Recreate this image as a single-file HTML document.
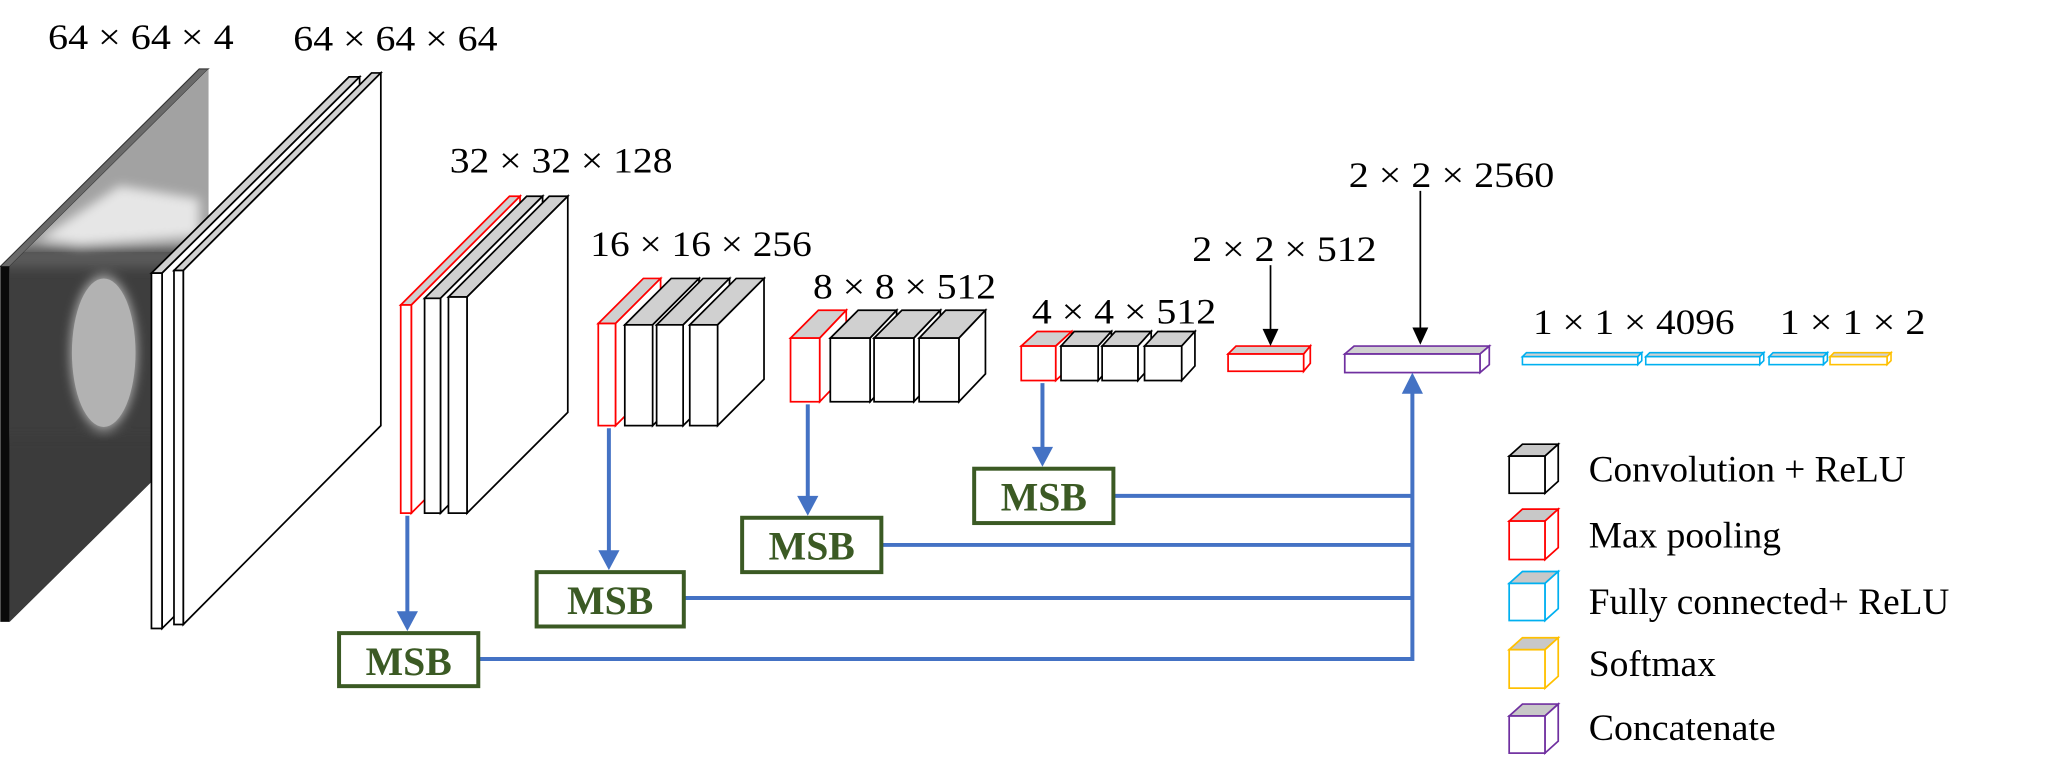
<!DOCTYPE html>
<html><head><meta charset="utf-8"><style>
html,body{margin:0;padding:0;background:#fff;}
svg{display:block;}
text{font-family:"Liberation Serif","Times New Roman",serif;fill:#000;}
</style></head><body>
<svg width="2069" height="773" viewBox="0 0 1560 583" xmlns="http://www.w3.org/2000/svg">
<defs>
<clipPath id="face"><polygon points="7,201 157,52 157,321 7,469"/></clipPath>
<filter id="bl"><feGaussianBlur stdDeviation="4"/></filter>
</defs>
<polygon points="0,201 150,52 157,52 7,201" fill="#6a6a6a" stroke="#333" stroke-width="0.8"/>
<rect x="0" y="201" width="7" height="268" fill="#0a0a0a"/>
<g clip-path="url(#face)">
<rect x="0" y="40" width="170" height="440" fill="#3e3e3e"/>
<rect x="0" y="40" width="170" height="150" fill="#a2a2a2"/>
<g filter="url(#bl)">
<polygon points="30,180 90,140 150,150 150,178 60,185" fill="#e6e6e6"/>
<rect x="0" y="186" width="170" height="16" fill="#5a5a5a"/>
<ellipse cx="78" cy="266" rx="25" ry="58" fill="#b0b0b0"/>
<rect x="0" y="330" width="170" height="140" fill="#3a3a3a"/>
</g>
<ellipse cx="78" cy="266" rx="24" ry="56" fill="#b2b2b2"/>
</g>
<g stroke="#000" stroke-width="1.3">
<polygon points="114,206 263,58 271,58 122,206" fill="#d0d0d0"/>
<polygon points="122,206 271,58 271,326 122,474" fill="#fff"/>
<rect x="114" y="206" width="8" height="268" fill="#fff"/>
<polygon points="131,204 280,55 287,55 138,204" fill="#d0d0d0"/>
<polygon points="138,204 287,55 287,321 138,471" fill="#fff"/>
<rect x="131" y="204" width="7" height="267" fill="#fff"/>
</g>
<g stroke-width="1.3">
<g stroke="#f00"><polygon points="302,230 384,148 392,148 310,230" fill="#d0d0d0"/><polygon points="310,230 392,148 392,305 310,387" fill="#fff"/><rect x="302" y="230" width="8" height="157" fill="#fff"/></g>
<g stroke="#000"><polygon points="320,225 397,148 409,148 332,225" fill="#d0d0d0"/><polygon points="332,225 409,148 409,310 332,387" fill="#fff"/><rect x="320" y="225" width="12" height="162" fill="#fff"/></g>
<g stroke="#000"><polygon points="338,224 414,148 428,148 352,224" fill="#d0d0d0"/><polygon points="352,224 428,148 428,311 352,387" fill="#fff"/><rect x="338" y="224" width="14" height="163" fill="#fff"/></g>
</g>
<g stroke-width="1.3">
<g stroke="#f00"><polygon points="451,244 485,210 498,210 464,244" fill="#d0d0d0"/><polygon points="464,244 498,210 498,287 464,321" fill="#fff"/><rect x="451" y="244" width="13" height="77" fill="#fff"/></g>
<g stroke="#000"><polygon points="471,245 506,210 527,210 492,245" fill="#d0d0d0"/><polygon points="492,245 527,210 527,286 492,321" fill="#fff"/><rect x="471" y="245" width="21" height="76" fill="#fff"/></g>
<g stroke="#000"><polygon points="495,245 530,210 550,210 515,245" fill="#d0d0d0"/><polygon points="515,245 550,210 550,286 515,321" fill="#fff"/><rect x="495" y="245" width="20" height="76" fill="#fff"/></g>
<g stroke="#000"><polygon points="520,245 555,210 576,210 541,245" fill="#d0d0d0"/><polygon points="541,245 576,210 576,286 541,321" fill="#fff"/><rect x="520" y="245" width="21" height="76" fill="#fff"/></g>
</g>
<g stroke-width="1.3">
<g stroke="#f00"><polygon points="596,255 617,234 638,234 618,255" fill="#d0d0d0"/><polygon points="618,255 638,234 638,282 618,303" fill="#fff"/><rect x="596" y="255" width="22" height="48" fill="#fff"/></g>
<g stroke="#000"><polygon points="626,255 647,234 676,234 656,255" fill="#d0d0d0"/><polygon points="656,255 676,234 676,282 656,303" fill="#fff"/><rect x="626" y="255" width="30" height="48" fill="#fff"/></g>
<g stroke="#000"><polygon points="659,255 680,234 709,234 689,255" fill="#d0d0d0"/><polygon points="689,255 709,234 709,282 689,303" fill="#fff"/><rect x="659" y="255" width="30" height="48" fill="#fff"/></g>
<g stroke="#000"><polygon points="693,255 713,234 743,234 723,255" fill="#d0d0d0"/><polygon points="723,255 743,234 743,282 723,303" fill="#fff"/><rect x="693" y="255" width="30" height="48" fill="#fff"/></g>
</g>
<g stroke-width="1.3">
<g stroke="#f00"><polygon points="770,261 782,250 808,250 796,261" fill="#d0d0d0"/><polygon points="796,261 808,250 808,276 796,287" fill="#fff"/><rect x="770" y="261" width="26" height="26" fill="#fff"/></g>
<g stroke="#000"><polygon points="800,261 810,250 838,250 828,261" fill="#d0d0d0"/><polygon points="828,261 838,250 838,276 828,287" fill="#fff"/><rect x="800" y="261" width="28" height="26" fill="#fff"/></g>
<g stroke="#000"><polygon points="831,261 841,250 868,250 858,261" fill="#d0d0d0"/><polygon points="858,261 868,250 868,276 858,287" fill="#fff"/><rect x="831" y="261" width="27" height="26" fill="#fff"/></g>
<g stroke="#000"><polygon points="863,261 873,250 901,250 891,261" fill="#d0d0d0"/><polygon points="891,261 901,250 901,276 891,287" fill="#fff"/><rect x="863" y="261" width="28" height="26" fill="#fff"/></g>
</g>
<g stroke="#f00" stroke-width="1.3"><polygon points="926,267 932,261 988,261 983,267" fill="#d0d0d0"/><polygon points="983,267 988,261 988,274 983,280" fill="#fff"/><rect x="926" y="267" width="57" height="13" fill="#fff"/></g>
<g stroke="#7030a0" stroke-width="1.3"><polygon points="1014,267 1021,261 1123,261 1116,267" fill="#d0d0d0"/><polygon points="1116,267 1123,261 1123,275 1116,281" fill="#fff"/><rect x="1014" y="267" width="102" height="14" fill="#fff"/></g>
<g stroke-width="1.2">
<g stroke="#00b0f0"><polygon points="1148,269 1151,266 1238,266 1235,269" fill="#d0d0d0"/><polygon points="1235,269 1238,266 1238,272 1235,275" fill="#fff"/><rect x="1148" y="269" width="87" height="6" fill="#fff"/></g>
<g stroke="#00b0f0"><polygon points="1241,269 1244,266 1330,266 1327,269" fill="#d0d0d0"/><polygon points="1327,269 1330,266 1330,272 1327,275" fill="#fff"/><rect x="1241" y="269" width="86" height="6" fill="#fff"/></g>
<g stroke="#00b0f0"><polygon points="1334,269 1337,266 1378,266 1375,269" fill="#d0d0d0"/><polygon points="1375,269 1378,266 1378,272 1375,275" fill="#fff"/><rect x="1334" y="269" width="41" height="6" fill="#fff"/></g>
<g stroke="#ffc000"><polygon points="1380,269 1383,266 1426,266 1423,269" fill="#d0d0d0"/><polygon points="1423,269 1426,266 1426,272 1423,275" fill="#fff"/><rect x="1380" y="269" width="43" height="6" fill="#fff"/></g>
</g>
<g stroke="#000" stroke-width="1.3"><line x1="958" y1="200" x2="958" y2="250"/><line x1="1071" y1="144" x2="1071" y2="249"/></g>
<polygon points="952,248 964,248 958,261" fill="#000"/>
<polygon points="1065,247 1077,247 1071,260" fill="#000"/>
<g stroke="#4472c4" stroke-width="3" fill="none">
<line x1="307" y1="389" x2="307" y2="466"/>
<line x1="459" y1="323" x2="459" y2="420"/>
<line x1="609" y1="305" x2="609" y2="379"/>
<line x1="786" y1="289" x2="786" y2="342"/>
<polyline points="361,497 1065,497 1065,294"/>
<line x1="516" y1="451" x2="1065" y2="451"/>
<line x1="665" y1="411" x2="1065" y2="411"/>
<line x1="840" y1="374" x2="1065" y2="374"/>
</g>
<g fill="#4472c4">
<polygon points="299,461 315,461 307,476"/>
<polygon points="451,415 467,415 459,430"/>
<polygon points="601,374 617,374 609,389"/>
<polygon points="778,337 794,337 786,352"/>
<polygon points="1057,297 1073,297 1065,281"/>
</g>
<g fill="#fff" stroke="#3b5a24" stroke-width="3">
<rect x="255.5" y="477.5" width="105" height="40"/>
<rect x="404.5" y="431.5" width="111" height="41"/>
<rect x="559.5" y="390.5" width="105" height="41"/>
<rect x="734.5" y="353.5" width="105" height="41"/>
</g>
<g font-weight="bold" font-size="30" text-anchor="middle">
<text x="308" y="509" style="fill:#3b5a24">MSB</text>
<text x="460" y="463" style="fill:#3b5a24">MSB</text>
<text x="612" y="422" style="fill:#3b5a24">MSB</text>
<text x="787" y="385" style="fill:#3b5a24">MSB</text>
</g>
<g font-size="27">
<text x="36" y="37" textLength="140" lengthAdjust="spacingAndGlyphs">64 × 64 × 4</text>
<text x="221" y="38" textLength="154" lengthAdjust="spacingAndGlyphs">64 × 64 × 64</text>
<text x="339" y="130" textLength="168" lengthAdjust="spacingAndGlyphs">32 × 32 × 128</text>
<text x="445" y="193" textLength="167" lengthAdjust="spacingAndGlyphs">16 × 16 × 256</text>
<text x="613" y="225" textLength="138" lengthAdjust="spacingAndGlyphs">8 × 8 × 512</text>
<text x="778" y="244" textLength="139" lengthAdjust="spacingAndGlyphs">4 × 4 × 512</text>
<text x="899" y="197" textLength="139" lengthAdjust="spacingAndGlyphs">2 × 2 × 512</text>
<text x="1017" y="141" textLength="155" lengthAdjust="spacingAndGlyphs">2 × 2 × 2560</text>
<text x="1156" y="252" textLength="152" lengthAdjust="spacingAndGlyphs">1 × 1 × 4096</text>
<text x="1342" y="252" textLength="110" lengthAdjust="spacingAndGlyphs">1 × 1 × 2</text>
</g>
<g stroke-width="1.3">
<g stroke="#000"><polygon points="1138,344 1148,335 1175,335 1165,344" fill="#c8c8c8"/><polygon points="1165,344 1175,335 1175,363 1165,372" fill="#fff"/><rect x="1138" y="344" width="27" height="28" fill="#fff"/></g>
<g stroke="#f00"><polygon points="1138,393 1148,384 1175,384 1165,393" fill="#c8c8c8"/><polygon points="1165,393 1175,384 1175,413 1165,422" fill="#fff"/><rect x="1138" y="393" width="27" height="29" fill="#fff"/></g>
<g stroke="#00b0f0"><polygon points="1138,440 1148,431 1175,431 1165,440" fill="#c8c8c8"/><polygon points="1165,440 1175,431 1175,459 1165,468" fill="#fff"/><rect x="1138" y="440" width="27" height="28" fill="#fff"/></g>
<g stroke="#ffc000"><polygon points="1138,490 1148,481 1175,481 1165,490" fill="#c8c8c8"/><polygon points="1165,490 1175,481 1175,510 1165,519" fill="#fff"/><rect x="1138" y="490" width="27" height="29" fill="#fff"/></g>
<g stroke="#7030a0"><polygon points="1138,540 1148,531 1175,531 1165,540" fill="#c8c8c8"/><polygon points="1165,540 1175,531 1175,559 1165,568" fill="#fff"/><rect x="1138" y="540" width="27" height="28" fill="#fff"/></g>
</g>
<g font-size="28">
<text x="1198" y="363" textLength="239" lengthAdjust="spacingAndGlyphs">Convolution + ReLU</text>
<text x="1198" y="413" textLength="145" lengthAdjust="spacingAndGlyphs">Max pooling</text>
<text x="1198" y="463" textLength="272" lengthAdjust="spacingAndGlyphs">Fully connected+ ReLU</text>
<text x="1198" y="510" textLength="96" lengthAdjust="spacingAndGlyphs">Softmax</text>
<text x="1198" y="558" textLength="141" lengthAdjust="spacingAndGlyphs">Concatenate</text>
</g>
</svg>
</body></html>
